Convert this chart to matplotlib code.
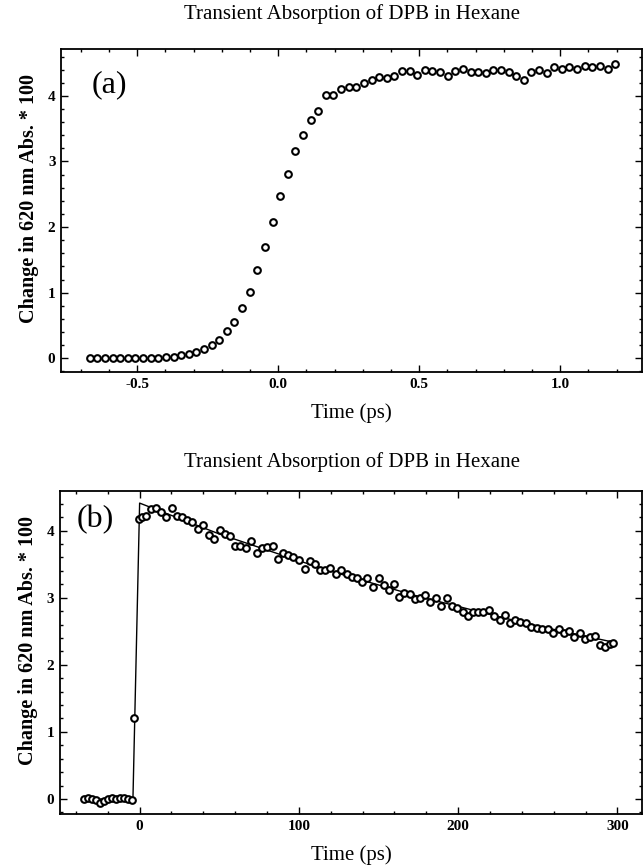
import matplotlib
matplotlib.use("Agg")
import matplotlib.pyplot as plt
from matplotlib.ticker import MultipleLocator, FixedLocator

plt.rcParams['font.family'] = ['Liberation Serif', 'DejaVu Serif']

# ---------------- Panel (a) data ----------------
time_a = [-0.668, -0.641, -0.614, -0.587, -0.560, -0.533, -0.506, -0.479, -0.452, -0.425,
          -0.398, -0.371, -0.344, -0.317, -0.290, -0.263, -0.236, -0.209, -0.182, -0.155,
          -0.128, -0.101, -0.074, -0.047, -0.020, 0.007, 0.034, 0.061, 0.088, 0.115,
          0.142, 0.169, 0.196, 0.223, 0.250, 0.277, 0.304, 0.331, 0.358, 0.385,
          0.412, 0.439, 0.466, 0.493, 0.520, 0.547, 0.574, 0.601, 0.628, 0.655,
          0.682, 0.709, 0.736, 0.763, 0.790, 0.817, 0.844, 0.871, 0.898, 0.925,
          0.952, 0.979, 1.006, 1.033, 1.060, 1.087, 1.114, 1.141, 1.168, 1.195]
absorb_a = [0.00, 0.00, 0.005, 0.01, 0.005, 0.005, 0.005, 0.005, 0.01, 0.01,
            0.02, 0.025, 0.05, 0.06, 0.10, 0.14, 0.20, 0.28, 0.41, 0.56,
            0.77, 1.01, 1.34, 1.69, 2.07, 2.48, 2.81, 3.16, 3.41, 3.64,
            3.77, 4.01, 4.02, 4.105, 4.13, 4.14, 4.20, 4.24, 4.29, 4.27,
            4.31, 4.375, 4.375, 4.32, 4.395, 4.385, 4.36, 4.31, 4.375, 4.405,
            4.365, 4.365, 4.355, 4.39, 4.39, 4.37, 4.31, 4.24, 4.365, 4.395,
            4.355, 4.445, 4.405, 4.445, 4.405, 4.455, 4.435, 4.455, 4.405, 4.485]

# ---------------- Panel (b) data ----------------
time_b = [-35.0, -32.5, -30.0, -27.5, -25.0, -22.5, -20.0, -17.5, -15.0, -12.5,
          -10.0, -7.5, -5.0, -3.3, -0.2, 1.5, 4.2, 7.1, 10.5, 13.6,
          16.8, 20.3, 23.5, 26.6, 29.7, 32.9, 36.4, 39.8, 43.3, 46.5,
          50.2, 53.8, 56.9, 60.1, 63.2, 66.8, 70.1, 73.7, 76.8, 80.0,
          83.5, 86.6, 89.8, 93.1, 96.3, 99.8, 103.6, 106.7, 109.9, 113.0,
          116.6, 119.7, 123.3, 126.6, 130.2, 133.3, 136.5, 139.6, 142.8, 146.6,
          150.1, 153.3, 156.4, 159.5, 163.0, 166.2, 169.5, 172.6, 176.2, 179.3,
          182.5, 186.2, 189.4, 192.9, 196.1, 199.2, 203.0, 206.1, 209.3, 212.4,
          215.6, 219.1, 222.3, 226.0, 229.6, 232.7, 235.8, 239.0, 242.8, 245.9,
          249.5, 252.6, 256.2, 259.3, 263.0, 266.2, 269.3, 272.9, 276.3, 279.8,
          283.0, 286.1, 289.3, 292.4, 295.6, 297.2]
absorb_b = [0.00, 0.01, 0.00, -0.02, -0.055, -0.03, 0.00, 0.01, 0.00, 0.01,
            0.01, 0.00, -0.01, 1.21, 4.18, 4.20, 4.22, 4.32, 4.33, 4.28,
            4.21, 4.34, 4.22, 4.20, 4.16, 4.13, 4.02, 4.08, 3.94, 3.87,
            4.01, 3.95, 3.92, 3.77, 3.77, 3.74, 3.85, 3.66, 3.74, 3.75,
            3.77, 3.58, 3.66, 3.63, 3.61, 3.56, 3.43, 3.55, 3.50, 3.41,
            3.41, 3.44, 3.35, 3.41, 3.36, 3.31, 3.29, 3.24, 3.29, 3.16,
            3.29, 3.19, 3.11, 3.20, 3.01, 3.07, 3.06, 2.98, 2.99, 3.04,
            2.93, 2.99, 2.88, 2.99, 2.87, 2.84, 2.78, 2.73, 2.79, 2.79,
            2.78, 2.82, 2.72, 2.67, 2.74, 2.62, 2.67, 2.64, 2.63, 2.57,
            2.55, 2.53, 2.54, 2.48, 2.54, 2.47, 2.51, 2.42, 2.47, 2.38,
            2.41, 2.43, 2.30, 2.26, 2.31, 2.33]

# fitted curve
fit_time_b = [-35.0, -4.2, 0.0, 25.0, 50.0, 75.0, 100.0, 125.0, 150.0, 175.0,
              200.0, 225.0, 250.0, 275.0, 297.0]
fit_absorb_b = [0.0, 0.0, 4.41, 4.18, 3.95, 3.75, 3.55, 3.36, 3.19, 3.02,
                2.87, 2.72, 2.58, 2.45, 2.34]

title_text = "Transient Absorption of DPB in Hexane"
ylabel_text = "Change in 620 nm Abs. * 100"
xlabel_text = "Time (ps)"
ticks_a_x = [-0.5, 0.0, 0.5, 1.0]
ticklabels_a_x = ["-0.5", "0.0", "0.5", "1.0"]
ticks_y = [0, 1, 2, 3, 4]
ticks_b_x = [0, 100, 200, 300]

fig = plt.figure(figsize=(6.43, 8.66), dpi=100)
fig.patch.set_facecolor('white')

ax_a = fig.add_axes([0.0949, 0.5704, 0.9035, 0.3730])
ax_b = fig.add_axes([0.0933, 0.0597, 0.9051, 0.3737])

marker_kw = dict(linestyle='none', marker='o', markersize=4.8, markerfacecolor='white',
                 markeredgecolor='black', markeredgewidth=1.5)

ax_a.plot(time_a, absorb_a, **marker_kw)
ax_a.set_xlim(-0.77, 1.29)
ax_a.set_ylim(-0.21, 4.715)
ax_a.xaxis.set_major_locator(FixedLocator(ticks_a_x))
ax_a.set_xticklabels(ticklabels_a_x)
ax_a.xaxis.set_minor_locator(MultipleLocator(0.1))
ax_a.yaxis.set_major_locator(FixedLocator(ticks_y))
ax_a.yaxis.set_minor_locator(MultipleLocator(0.2))
ax_a.text(0.052, 0.935, "(a)", transform=ax_a.transAxes, fontsize=23, va='top', ha='left')

ax_b.plot(fit_time_b, fit_absorb_b, color='black', linewidth=1.0)
ax_b.plot(time_b, absorb_b, **marker_kw)
ax_b.set_xlim(-50, 315.4)
ax_b.set_ylim(-0.228, 4.595)
ax_b.xaxis.set_major_locator(FixedLocator(ticks_b_x))
ax_b.xaxis.set_minor_locator(MultipleLocator(20))
ax_b.yaxis.set_major_locator(FixedLocator(ticks_y))
ax_b.yaxis.set_minor_locator(MultipleLocator(0.2))
ax_b.text(0.029, 0.955, "(b)", transform=ax_b.transAxes, fontsize=23, va='top', ha='left')

for ax in (ax_a, ax_b):
    for sp in ax.spines.values():
        sp.set_linewidth(1.3)
    ax.tick_params(which='both', direction='in', top=True, right=True, width=1.0)
    ax.tick_params(which='major', length=5, labelsize=11, pad=4)
    ax.tick_params(which='minor', length=2.5)
    for lab in ax.get_xticklabels() + ax.get_yticklabels():
        lab.set_fontweight('bold')
    ax.set_ylabel(ylabel_text, fontsize=14.5, fontweight='bold')
    ax.yaxis.set_label_coords(-0.038, 0.536)
    ax.set_xlabel(xlabel_text, fontsize=15, labelpad=9)

fig.text(0.548, 0.9838, title_text, fontsize=15, ha='center', va='center')
fig.text(0.548, 0.4665, title_text, fontsize=15, ha='center', va='center')

fig.savefig("out.png", dpi=100, facecolor='white')
